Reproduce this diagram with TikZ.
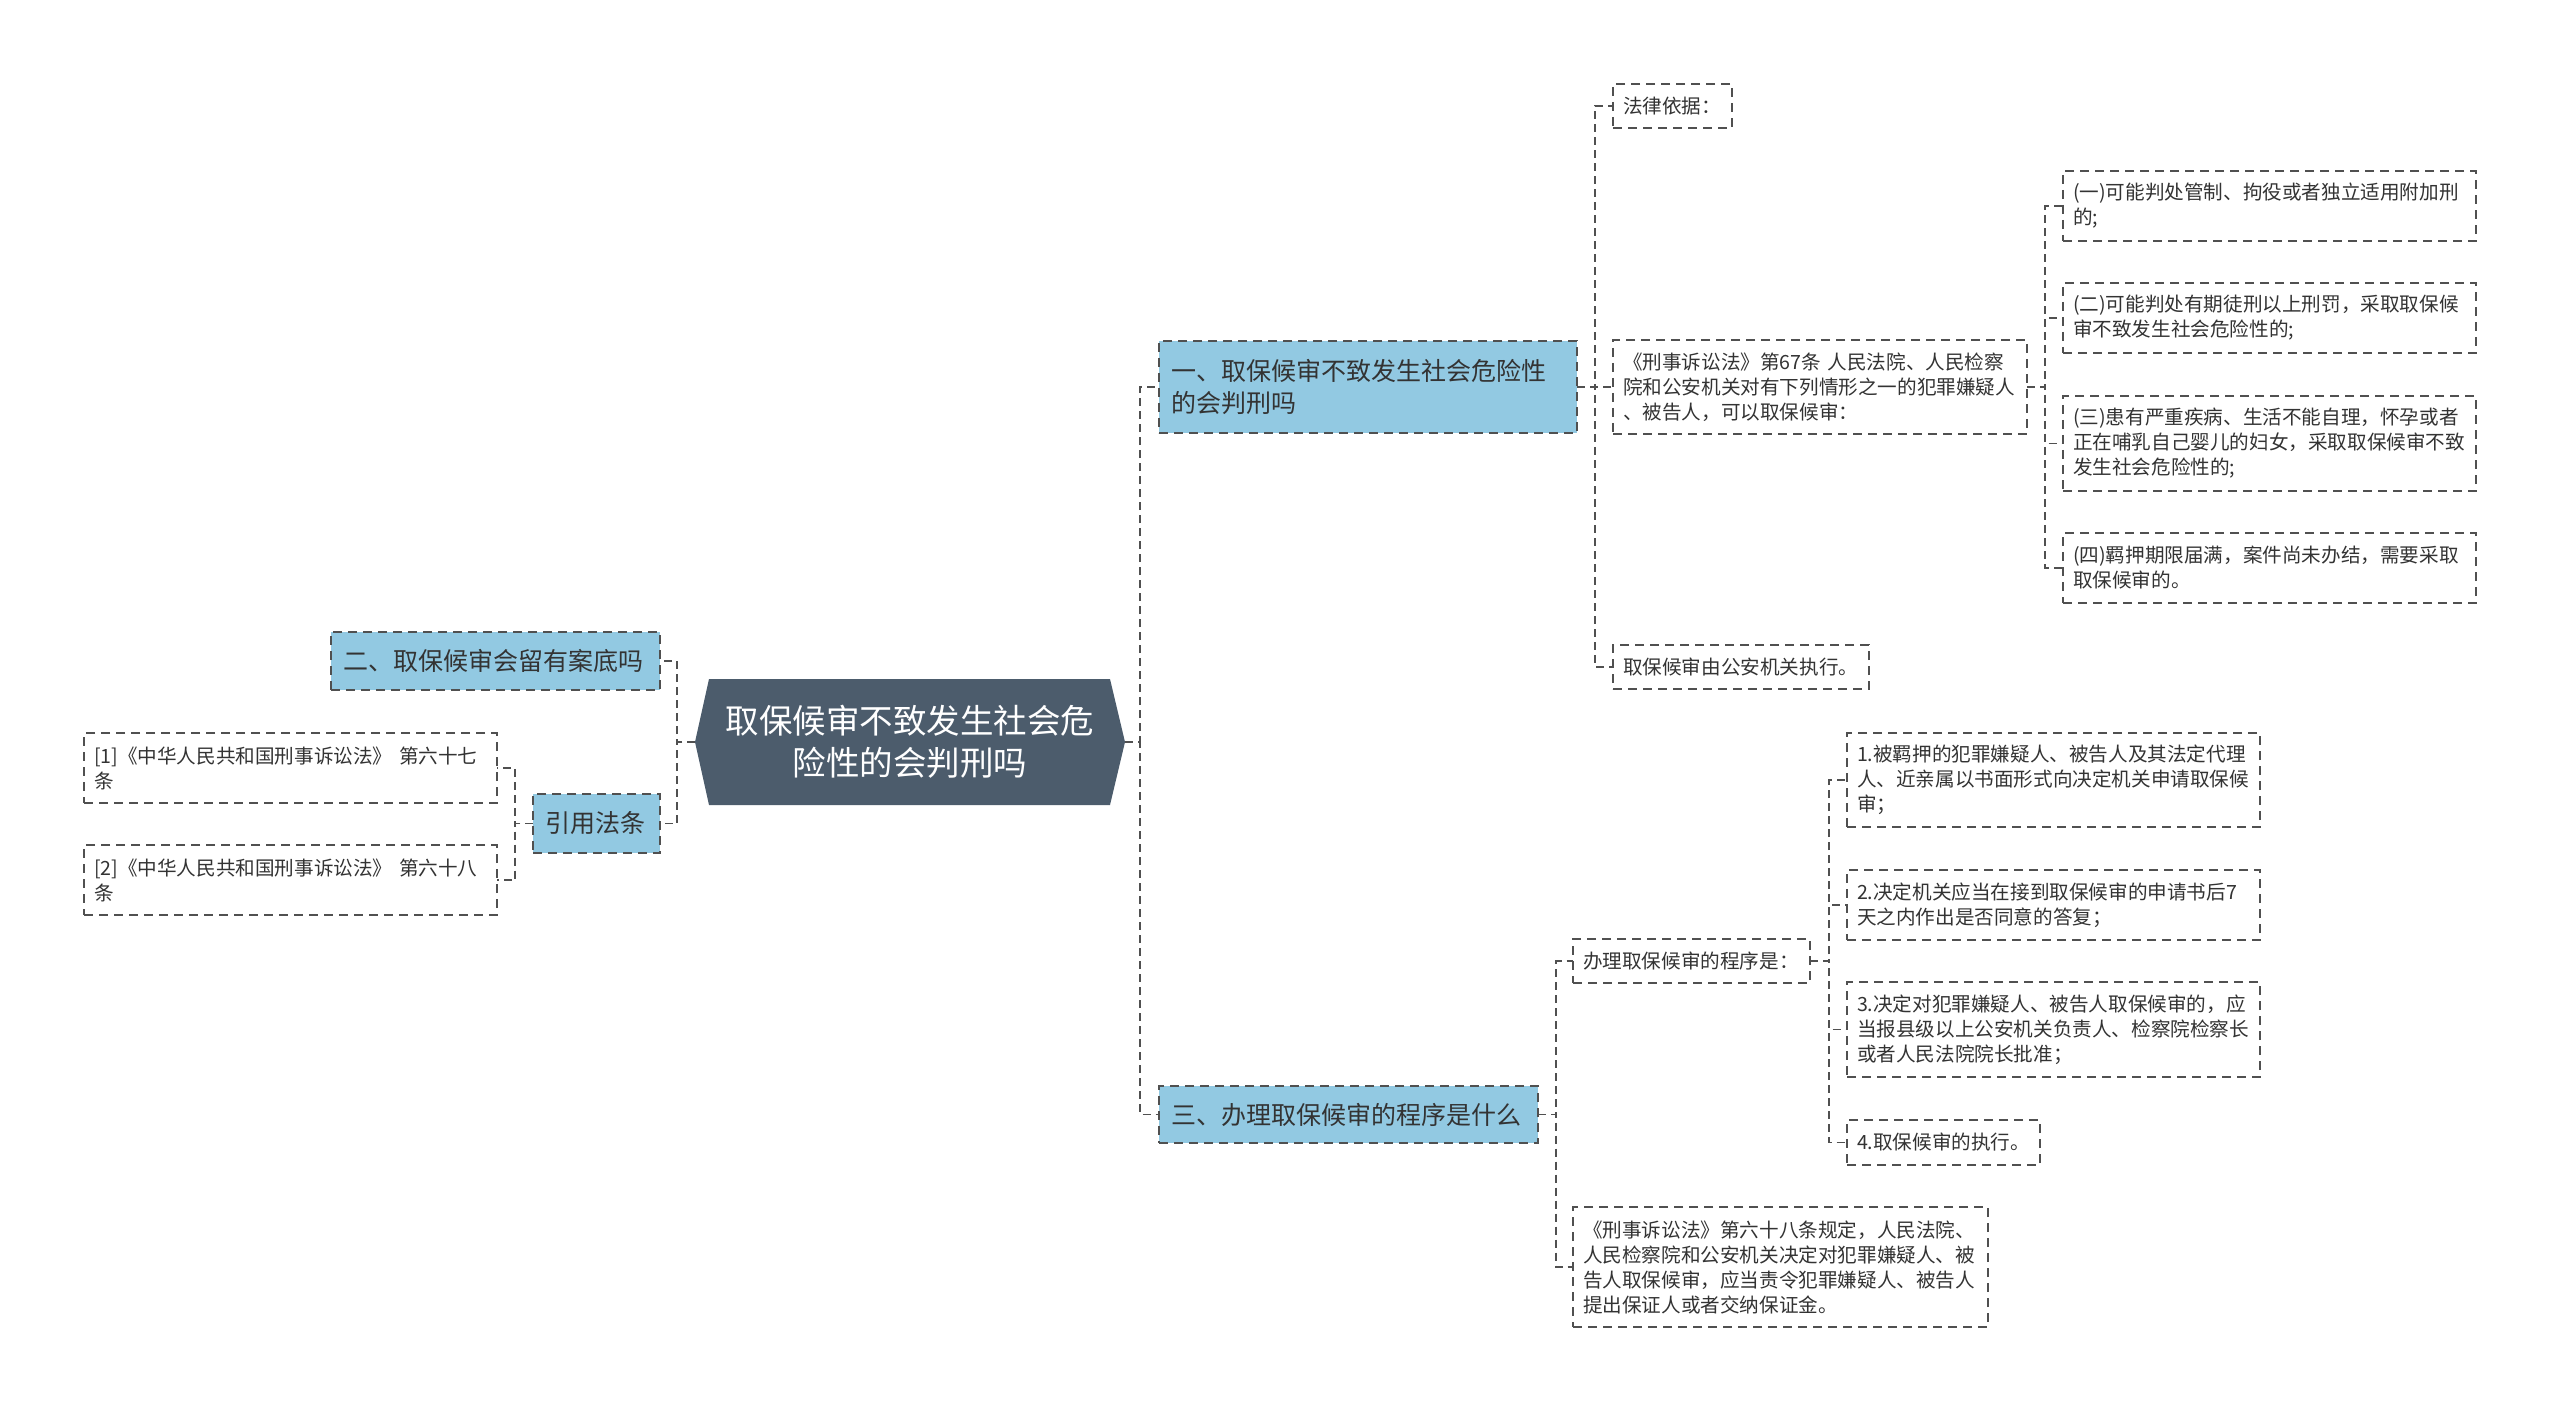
\documentclass[tikz,border=0pt]{standalone}
\usepackage{fontspec}
\setmainfont{Noto Sans CJK SC}
\usetikzlibrary{calc,backgrounds}
\definecolor{rootfill}{RGB}{76,92,108}
\definecolor{bluefill}{RGB}{146,201,226}
\definecolor{edgec}{RGB}{80,80,80}
\definecolor{txt}{RGB}{51,51,51}
\begin{document}
\begin{tikzpicture}[x=1pt,y=-1pt,
  every node/.style={inner sep=0pt, outer sep=0pt},
  conn/.style={draw=edgec, line width=1.6pt, dash pattern=on 8pt off 5pt},
  bluebox/.style={draw=edgec, fill=bluefill, line width=1.8pt, dash pattern=on 9pt off 6pt,
    inner xsep=12pt, inner ysep=2pt, align=left, text=txt, font=\fontsize{25}{31.7}\selectfont},
  leaf/.style={draw=edgec, fill=white, line width=1.8pt, dash pattern=on 9pt off 6pt,
    inner xsep=10pt, inner ysep=2pt, align=left, text=txt, font=\fontsize{19.6}{25}\selectfont},
]
\useasboundingbox (0,0) rectangle (2560,1412);
\begin{scope}[on background layer]
\fill[white] (0,0) rectangle (2560,1412);
\end{scope}

% root
\node[minimum width=430pt, minimum height=126pt, align=center, text=white,
  font=\fontsize{33.5}{41.7}\selectfont] (root) at (910,742) {取保候审不致发生社会危\\险性的会判刑吗};
\begin{scope}[on background layer]
\fill[rootfill] (root.west) -- ($(root.north west)+(14,0)$) -- ($(root.north east)+(-15,0)$)
  -- (root.east) -- ($(root.south east)+(-15,0)$) -- ($(root.south west)+(14,0)$) -- cycle;
\end{scope}

% main branches
\node[bluebox, minimum width=418pt, text width=394pt, minimum height=92pt] (b1) at (1368,387)
  {一、取保候审不致发生社会危险性\\的会判刑吗};
\node[bluebox, minimum width=329pt, text width=305pt, minimum height=58pt] (b2) at (495.5,661)
  {二、取保候审会留有案底吗};
\node[bluebox, minimum width=127pt, text width=103pt, minimum height=59pt] (ref) at (596.5,823.5)
  {引用法条};
\node[bluebox, minimum width=379pt, text width=355pt, minimum height=57pt] (b3) at (1348.5,1114.5)
  {三、办理取保候审的程序是什么};

% branch 1 children
\node[leaf, minimum width=119pt, text width=99pt, minimum height=44pt] (law) at (1672.5,106)
  {法律依据：};
\node[leaf, minimum width=414pt, text width=394pt, minimum height=94pt] (art67) at (1820,387)
  {《刑事诉讼法》第67条~人民法院、人民检察\\院和公安机关对有下列情形之一的犯罪嫌疑人\\、被告人，可以取保候审：};
\node[leaf, minimum width=256pt, text width=236pt, minimum height=44pt] (exec) at (1741,667)
  {取保候审由公安机关执行。};

% article 67 items
\node[leaf, minimum width=413pt, text width=393pt, minimum height=70pt] (i1) at (2269.5,206)
  {(一)可能判处管制、拘役或者独立适用附加刑\\的;};
\node[leaf, minimum width=413pt, text width=393pt, minimum height=70pt] (i2) at (2269.5,318)
  {(二)可能判处有期徒刑以上刑罚，采取取保候\\审不致发生社会危险性的;};
\node[leaf, minimum width=413pt, text width=393pt, minimum height=95pt] (i3) at (2269.5,443.5)
  {(三)患有严重疾病、生活不能自理，怀孕或者\\正在哺乳自己婴儿的妇女，采取取保候审不致\\发生社会危险性的;};
\node[leaf, minimum width=413pt, text width=393pt, minimum height=70pt] (i4) at (2269.5,568)
  {(四)羁押期限届满，案件尚未办结，需要采取\\取保候审的。};

% references
\node[leaf, minimum width=413pt, text width=393pt, minimum height=70pt] (r1) at (290.5,768)
  {[1]《中华人民共和国刑事诉讼法》~第六十七\\条};
\node[leaf, minimum width=413pt, text width=393pt, minimum height=70pt] (r2) at (290.5,880)
  {[2]《中华人民共和国刑事诉讼法》~第六十八\\条};

% branch 3 children
\node[leaf, minimum width=237pt, text width=217pt, minimum height=44pt] (proc) at (1691.5,961)
  {办理取保候审的程序是：};
\node[leaf, minimum width=415pt, text width=395pt, minimum height=120pt] (art68) at (1780.5,1267)
  {《刑事诉讼法》第六十八条规定，人民法院、\\人民检察院和公安机关决定对犯罪嫌疑人、被\\告人取保候审，应当责令犯罪嫌疑人、被告人\\提出保证人或者交纳保证金。};

% procedure steps
\node[leaf, minimum width=413pt, text width=393pt, minimum height=94pt] (p1) at (2053.5,780)
  {1.被羁押的犯罪嫌疑人、被告人及其法定代理\\人、近亲属以书面形式向决定机关申请取保候\\审；};
\node[leaf, minimum width=413pt, text width=393pt, minimum height=70pt] (p2) at (2053.5,905)
  {2.决定机关应当在接到取保候审的申请书后7\\天之内作出是否同意的答复；};
\node[leaf, minimum width=413pt, text width=393pt, minimum height=95pt] (p3) at (2053.5,1029.5)
  {3.决定对犯罪嫌疑人、被告人取保候审的，应\\当报县级以上公安机关负责人、检察院检察长\\或者人民法院院长批准；};
\node[leaf, minimum width=193pt, text width=173pt, minimum height=45pt] (p4) at (1943.5,1142.5)
  {4.取保候审的执行。};

% connectors
\draw[conn] (root.east) -- ++(15,0) |- (b1.west);
\draw[conn] (root.east) -- ++(15,0) |- (b3.west);
\draw[conn] (root.west) -- ++(-18,0) |- (b2.east);
\draw[conn] (root.west) -- ++(-18,0) |- (ref.east);

\draw[conn] (b1.east) -- ++(18,0) |- (law.west);
\draw[conn] (b1.east) -- (art67.west);
\draw[conn] (b1.east) -- ++(18,0) |- (exec.west);

\foreach \c in {i1,i2,i3,i4} \draw[conn] (art67.east) -- ++(18,0) |- (\c.west);
\foreach \c in {r1,r2} \draw[conn] (ref.west) -- ++(-18,0) |- (\c.east);

\draw[conn] (b3.east) -- ++(18,0) |- (proc.west);
\draw[conn] (b3.east) -- ++(18,0) |- (art68.west);
\foreach \c in {p1,p2,p3,p4} \draw[conn] (proc.east) -- ++(19,0) |- (\c.west);
\end{tikzpicture}
\end{document}
